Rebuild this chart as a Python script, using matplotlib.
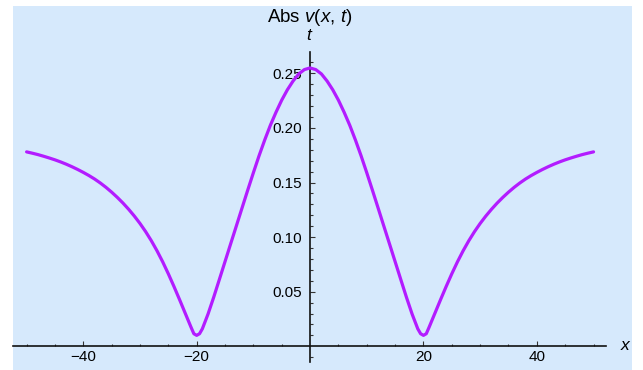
import matplotlib
matplotlib.use('Agg')
import matplotlib.pyplot as plt
from matplotlib.patches import Rectangle
from matplotlib.ticker import FixedLocator, FixedFormatter

# ---- data (right half; curve is symmetric) ----
x_right = [0, 1, 2, 3, 4, 5, 6, 7, 8, 9, 10, 11, 12, 13, 14, 15, 16, 17, 18,
           19, 19.5, 20, 20.5, 21, 22, 23, 24, 25, 26, 27, 28, 29, 30, 31, 32,
           33, 34, 35, 36, 37, 38, 39, 40, 41, 42, 43, 44, 45, 46, 47, 48, 49, 50]
v_right = [0.2550, 0.2535, 0.2495, 0.2430, 0.2350, 0.2255, 0.2145, 0.2025,
           0.1890, 0.1745, 0.1590, 0.1430, 0.1267, 0.1103, 0.0940, 0.0776,
           0.0612, 0.0449, 0.0295, 0.0160, 0.0115, 0.0100, 0.0115, 0.0175,
           0.0300, 0.0425, 0.0547, 0.0664, 0.0774, 0.0875, 0.0967, 0.1050,
           0.1125, 0.1193, 0.1255, 0.1312, 0.1364, 0.1412, 0.1456, 0.1496,
           0.1532, 0.1564, 0.1593, 0.1620, 0.1645, 0.1668, 0.1689, 0.1708,
           0.1725, 0.1741, 0.1756, 0.1769, 0.1781]
x_vals = [-v for v in x_right[:0:-1]] + x_right
abs_v = v_right[:0:-1] + v_right

x_major = [-40, -20, 20, 40]
x_major_labels = ['\u221240', '\u221220', '20', '40']
x_minor = [-50, -45, -35, -30, -25, -15, -10, -5, 5, 10, 15, 25, 30, 35, 45, 50]
y_major = [0.05, 0.10, 0.15, 0.20, 0.25]
y_major_labels = ['0.05', '0.10', '0.15', '0.20', '0.25']
y_minor = [0.01 * i for i in range(-1, 27) if i % 5 != 0]

title_text = r'$\mathrm{Abs}\ v(x,\,t)$'

# ---- styling ----
plt.rcParams['font.family'] = ['Liberation Sans', 'DejaVu Sans']
plt.rcParams['mathtext.fontset'] = 'custom'
plt.rcParams['mathtext.rm'] = 'Liberation Sans'
plt.rcParams['mathtext.it'] = 'Liberation Sans:italic'

W, H = 643, 370
fig = plt.figure(figsize=(W / 100, H / 100), dpi=100)
fig.patch.set_facecolor('white')
fig.patches.append(Rectangle((12.7 / W, 0), (632 - 12.7) / W, (370 - 5.7) / H,
                             transform=fig.transFigure, facecolor='#d6e9fc',
                             edgecolor='none', zorder=-10))

ax = fig.add_axes([13 / W, (370 - 362) / H, (606 - 13) / W, (362 - 52) / H])
ax.patch.set_alpha(0)
ax.set_xlim(-52.4, 52.2)
ax.set_ylim(-0.0144, 0.2696)

ax.plot(x_vals, abs_v, color='#b31cff', lw=2.3, solid_capstyle='round',
        solid_joinstyle='round', zorder=3)

for s in ['top', 'right']:
    ax.spines[s].set_visible(False)
ax.spines['left'].set_position(('data', 0))
ax.spines['bottom'].set_position(('data', 0))
for s in ['left', 'bottom']:
    ax.spines[s].set_linewidth(1.2)
    ax.spines[s].set_color('#111111')

ax.xaxis.set_major_locator(FixedLocator(x_major))
ax.xaxis.set_major_formatter(FixedFormatter(x_major_labels))
ax.xaxis.set_minor_locator(FixedLocator(x_minor))
ax.yaxis.set_major_locator(FixedLocator(y_major))
ax.yaxis.set_major_formatter(FixedFormatter(y_major_labels))
ax.yaxis.set_minor_locator(FixedLocator(y_minor))

ax.tick_params(which='both', direction='in', color='#333333', width=0.8)
ax.tick_params(which='major', length=3.5, labelsize=11)
ax.tick_params(which='minor', length=1.8)
ax.tick_params(axis='x', which='major', pad=3)
ax.tick_params(axis='y', which='major', pad=6)

fig.text(310 / W, 1 - 18 / H, title_text, ha='center', va='center', fontsize=13.5)
fig.text(310 / W, 1 - 36 / H, r'$t$', ha='center', va='center', fontsize=12.5)
fig.text(626 / W, 1 - 346 / H, r'$x$', ha='center', va='center', fontsize=12.5)

fig.savefig('out.png', dpi=100)
